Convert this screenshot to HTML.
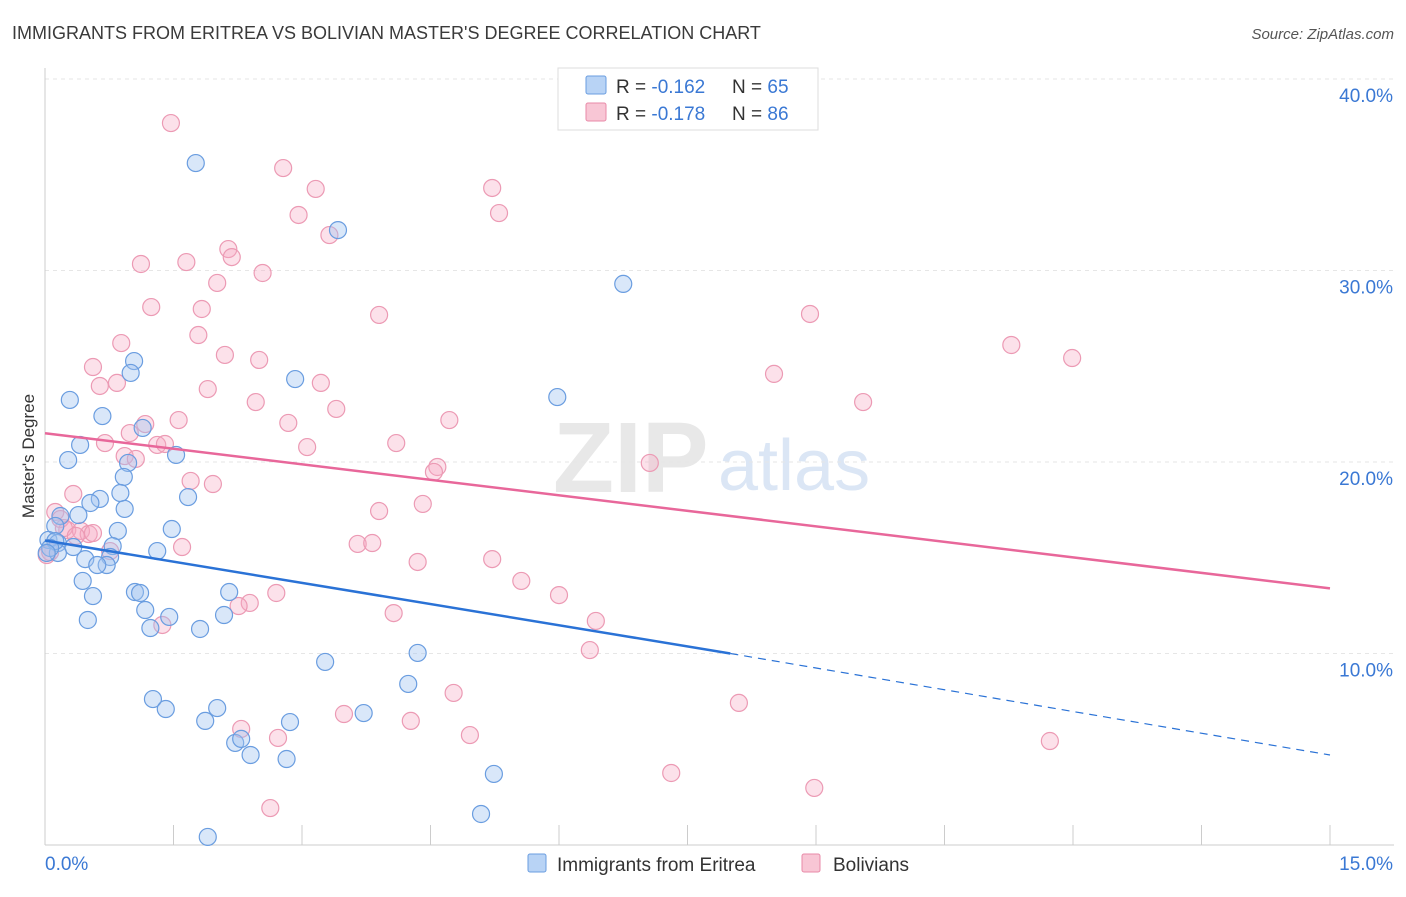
<!DOCTYPE html>
<html><head><meta charset="utf-8"><style>
body{margin:0;background:#fff;font-family:"Liberation Sans",sans-serif;}
svg text{font-family:"Liberation Sans",sans-serif;}
</style></head><body>
<svg id="chart" width="1406" height="892">
<text x="12" y="39" font-size="18" fill="#3a3a3a">IMMIGRANTS FROM ERITREA VS BOLIVIAN MASTER'S DEGREE CORRELATION CHART</text>
<text x="1394" y="39" font-size="15" fill="#555" text-anchor="end" font-style="italic">Source: ZipAtlas.com</text>
<text x="553" y="492" font-size="100" fill="#e8e8e8" font-family="Liberation Serif" font-weight="bold">ZIP</text>
<text x="718" y="490" font-size="72" fill="#dbe6f5">atlas</text>
<g id="grid"></g><g id="axes"></g><g id="marks"></g>
<text transform="translate(34,456) rotate(-90)" font-size="17" fill="#333" text-anchor="middle">Master's Degree</text>
<g>
<rect x="558" y="68" width="260" height="62" fill="#fff" stroke="#ddd"/>
<rect x="586" y="76" width="20" height="18" fill="#b8d3f5" stroke="#6a9de0" rx="2"/>
<text x="616" y="93" font-size="19" fill="#333">R = <tspan fill="#3a78d4">-0.162</tspan></text>
<text x="732" y="93" font-size="19" fill="#333">N = <tspan fill="#3a78d4">65</tspan></text>
<rect x="586" y="103" width="20" height="18" fill="#f8c6d5" stroke="#e88aa8" rx="2"/>
<text x="616" y="120" font-size="19" fill="#333">R = <tspan fill="#3a78d4">-0.178</tspan></text>
<text x="732" y="120" font-size="19" fill="#333">N = <tspan fill="#3a78d4">86</tspan></text>
</g>
<g>
<rect x="528" y="854" width="18" height="18" fill="#b8d3f5" stroke="#6a9de0" rx="2"/>
<text x="557" y="871" font-size="19" fill="#333">Immigrants from Eritrea</text>
<rect x="802" y="854" width="18" height="18" fill="#f8c6d5" stroke="#e88aa8" rx="2"/>
<text x="833" y="871" font-size="19" fill="#333">Bolivians</text>
</g>
</svg>
<script>
const blueX=[196,338,623,134,131,295,70,557,102,143,80,176,68,128,124,120,188,100,90,125,78,60,118,172,55,48,58,113,73,157,110,85,58,107,97,83,93,135,140,229,145,169,88,150,200,224,325,418,408,153,166,217,205,290,364,235,241,251,287,494,481,208,55,50,47].map(p=>+((p-45)/1285*15).toFixed(2));
const blueY=[163,230,284,361,373,379,400,397,416,428,445,455,460,463,477,493,497,499,503,509,515,516,531,529,526,540,543,546,547,551,557,559,553,565,565,581,596,592,593,592,610,617,620,628,629,615,662,653,684,699,709,708,721,722,713,743,739,755,759,774,814,837,541,548,553].map(p=>+((845-p)/191.5*10).toFixed(2));
const pinkX=[171,283,316,492,299,499,329,228,141,186,232,263,217,151,202,379,810,1011,1072,121,198,225,259,93,100,117,208,321,256,774,863,336,145,179,288,449,130,105,157,165,396,307,125,136,650,437,434,73,191,213,423,379,55,60,67,64,81,89,76,93,358,372,182,110,418,492,521,559,276,250,239,162,394,596,590,454,739,344,411,241,278,470,1050,671,814,270,47,50].map(p=>+((p-45)/1285*15).toFixed(2));
const pinkY=[123,168,189,188,215,213,235,249,264,262,257,273,283,307,309,315,314,345,358,343,335,355,360,367,386,383,389,383,402,374,402,409,424,420,423,420,433,443,445,444,443,447,456,459,463,467,472,494,481,484,504,511,512,519,530,528,531,534,536,533,544,543,547,551,562,559,581,595,593,603,606,625,613,621,650,693,703,714,721,729,738,735,741,773,788,808,555,552].map(p=>+((845-p)/191.5*10).toFixed(2));
const blueTrend=[15.9,10.0,4.7], blueTrendX=[0,8.0,15];
const pinkTrend=[21.5,13.4], pinkTrendX=[0,15];
const yTicks=[10,20,30,40], xTickLabels=["0.0%","15.0%"];
const X=v=>45+v/15*1285, Y=v=>845-v/10*191.5;
const NS="http://www.w3.org/2000/svg";
function mk(t,a,parent){const e=document.createElementNS(NS,t);for(const k in a)e.setAttribute(k,a[k]);document.getElementById(parent).appendChild(e);return e;}
yTicks.forEach(t=>{
 const l=mk('line',{x1:45,x2:1394,y1:Y(t),y2:Y(t),stroke:'#e6e6e6','stroke-dasharray':'4,4'},'grid');
 
 
 const tx=mk('text',{x:1393,y:Y(t)+23,'font-size':19,fill:'#3a78d4','text-anchor':'end'},'axes');tx.textContent=t.toFixed(1)+'%';
 
 
});
mk('line',{x1:45,x2:1394,y1:845,y2:845,stroke:'#ccc'},'axes');
mk('line',{x1:45,x2:45,y1:68,y2:845,stroke:'#ccc'},'axes');
for(let i=0;i<=10;i++){mk('line',{x1:X(i*1.5),x2:X(i*1.5),y1:825,y2:845,stroke:'#ccc'},'axes');}
[[0,'start',45],[15,'end',1393]].forEach((d,i)=>{const t=mk('text',{x:d[2],y:870,'font-size':19,fill:'#3a78d4','text-anchor':d[1]},'axes');t.textContent=xTickLabels[i];
 
 });
pinkX.forEach((x,i)=>{const c=mk('circle',{cx:X(x),cy:Y(pinkY[i]),r:8.5,fill:'rgba(245,170,195,0.35)',stroke:'#ec9ab4','stroke-width':1.2},'marks');
 
 });
blueX.forEach((x,i)=>{const c=mk('circle',{cx:X(x),cy:Y(blueY[i]),r:8.5,fill:'rgba(160,195,240,0.4)',stroke:'#6a9de0','stroke-width':1.2},'marks');
 
 });
const pl=mk('line',{x1:X(pinkTrendX[0]),y1:Y(pinkTrend[0]),x2:X(pinkTrendX[1]),y2:Y(pinkTrend[1]),stroke:'#e8679a','stroke-width':2.5},'marks');


const bl=mk('line',{x1:X(blueTrendX[0]),y1:Y(blueTrend[0]),x2:X(blueTrendX[1]),y2:Y(blueTrend[1]),stroke:'#2a72d6','stroke-width':2.5},'marks');


const bd=mk('line',{x1:X(blueTrendX[1]),y1:Y(blueTrend[1]),x2:X(blueTrendX[2]),y2:Y(blueTrend[2]),stroke:'#2a72d6','stroke-width':1.2,'stroke-dasharray':'8,6'},'marks');


</script>
</body></html>
